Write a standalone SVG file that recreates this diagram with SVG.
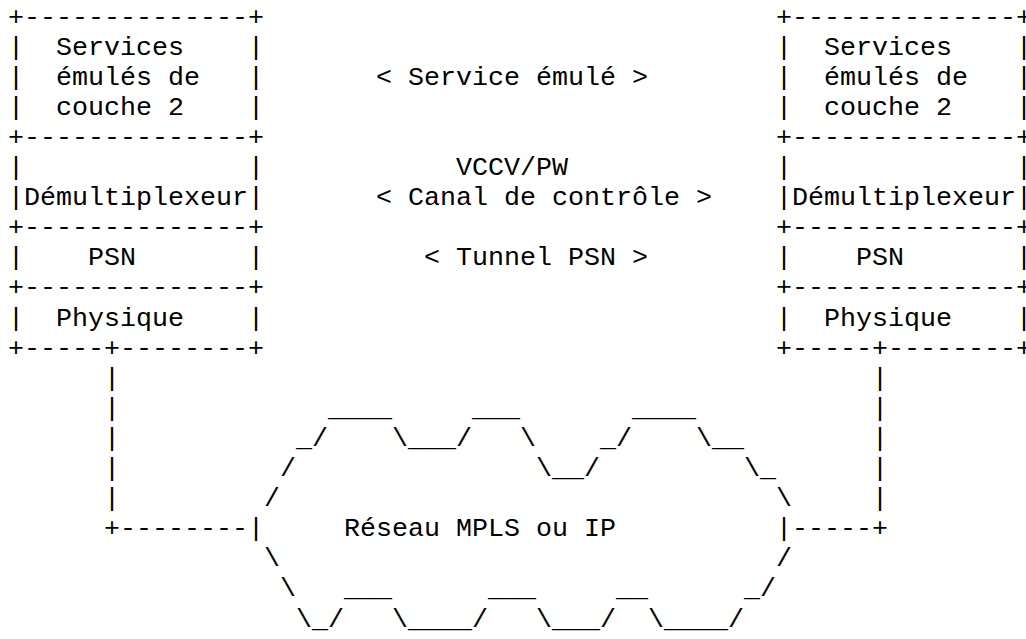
<svg xmlns="http://www.w3.org/2000/svg" width="1026" height="639" viewBox="0 0 1026 639">
<style>
text{font-family:"Liberation Mono","Courier New",monospace;font-size:26.667px;fill:#000;white-space:pre}
</style>
<rect width="1026" height="639" fill="#fff"/>
<g id="left-stack">
<g id="left-services">
<text x="8" y="24.5">+--------------+</text>
<text x="8" y="54.6">|</text><text x="56" y="54.6">Services</text><text x="248" y="54.6">|</text>
<text x="8" y="84.7">|</text><text x="56" y="84.7">émulés de</text><text x="248" y="84.7">|</text>
<text x="8" y="114.8">|</text><text x="56" y="114.8">couche 2</text><text x="248" y="114.8">|</text>
</g>
<g id="left-demux">
<text x="8" y="144.9">+--------------+</text>
<text x="8" y="175">|</text><text x="248" y="175">|</text>
<text x="8" y="205.1">|Démultiplexeur|</text>
</g>
<g id="left-psn">
<text x="8" y="235.2">+--------------+</text>
<text x="8" y="265.3">|</text><text x="88" y="265.3">PSN</text><text x="248" y="265.3">|</text>
</g>
<g id="left-phys">
<text x="8" y="295.4">+--------------+</text>
<text x="8" y="325.5">|</text><text x="56" y="325.5">Physique</text><text x="248" y="325.5">|</text>
<text x="8" y="355.6">+-----+--------+</text>
</g>
</g>
<g id="right-stack">
<g id="right-services">
<text x="776" y="24.5">+--------------+</text>
<text x="776" y="54.6">|</text><text x="824" y="54.6">Services</text><text x="1016" y="54.6">|</text>
<text x="776" y="84.7">|</text><text x="824" y="84.7">émulés de</text><text x="1016" y="84.7">|</text>
<text x="776" y="114.8">|</text><text x="824" y="114.8">couche 2</text><text x="1016" y="114.8">|</text>
</g>
<g id="right-demux">
<text x="776" y="144.9">+--------------+</text>
<text x="776" y="175">|</text><text x="1016" y="175">|</text>
<text x="776" y="205.1">|Démultiplexeur|</text>
</g>
<g id="right-psn">
<text x="776" y="235.2">+--------------+</text>
<text x="776" y="265.3">|</text><text x="856" y="265.3">PSN</text><text x="1016" y="265.3">|</text>
</g>
<g id="right-phys">
<text x="776" y="295.4">+--------------+</text>
<text x="776" y="325.5">|</text><text x="824" y="325.5">Physique</text><text x="1016" y="325.5">|</text>
<text x="776" y="355.6">+-----+--------+</text>
</g>
</g>
<g id="labels">
<text x="376" y="84.7">&lt; Service émulé &gt;</text>
<text x="456" y="175">VCCV/PW</text>
<text x="376" y="205.1">&lt; Canal de contrôle &gt;</text>
<text x="424" y="265.3">&lt; Tunnel PSN &gt;</text>
</g>
<g id="connectors">
<text x="104" y="385.7">|</text><text x="872" y="385.7">|</text>
<text x="104" y="415.8">|</text><text x="872" y="415.8">|</text>
<text x="104" y="445.9">|</text><text x="872" y="445.9">|</text>
<text x="104" y="476">|</text><text x="872" y="476">|</text>
<text x="104" y="506.1">|</text><text x="872" y="506.1">|</text>
<text x="104" y="536.2">+--------</text>
<text x="792" y="536.2">-----+</text>
</g>
<g id="cloud">
<text x="328" y="415.8">____</text><text x="472" y="415.8">___</text><text x="632" y="415.8">____</text>
<text x="296" y="445.9">_/</text><text x="392" y="445.9">\___/</text><text x="520" y="445.9">\</text><text x="600" y="445.9">_/</text><text x="696" y="445.9">\__</text>
<text x="280" y="476">/</text><text x="536" y="476">\__/</text><text x="744" y="476">\_</text>
<text x="264" y="506.1">/</text><text x="776" y="506.1">\</text>
<text x="248" y="536.2">|</text><text x="344" y="536.2">Réseau MPLS ou IP</text><text x="776" y="536.2">|</text>
<text x="264" y="566.3">\</text><text x="776" y="566.3">/</text>
<text x="280" y="596.4">\</text><text x="344" y="596.4">___</text><text x="488" y="596.4">___</text><text x="616" y="596.4">__</text><text x="744" y="596.4">_/</text>
<text x="296" y="626.5">\_/</text><text x="392" y="626.5">\____/</text><text x="536" y="626.5">\___/</text><text x="648" y="626.5">\____/</text>
</g>
</svg>
